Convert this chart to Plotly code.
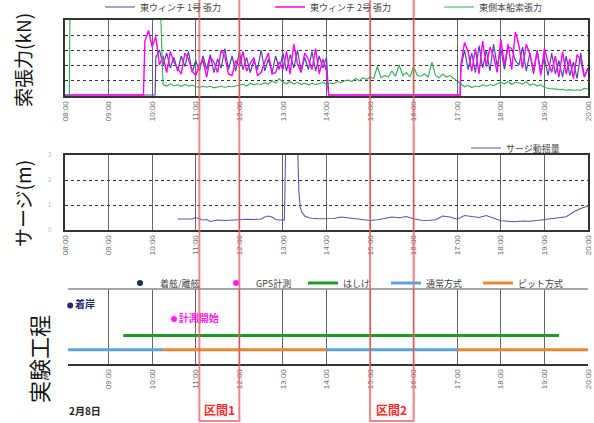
import plotly.graph_objects as go
import pandas as pd

DAY = "2024-02-08 "

# ---------------- data ----------------
HOUR_TICKS = ["08:00", "09:00", "10:00", "11:00", "12:00", "13:00", "14:00",
              "15:00", "16:00", "17:00", "18:00", "19:00", "20:00"]

# tension (kN), 5-minute samples
W1_A_START = "10:05"
W1_A = [50, 60, 40, 56, 36, 50, 32, 52, 38, 58, 30, 46, 32, 52, 34, 54, 30, 48,
        36, 62, 34, 52, 32, 58, 34, 50, 30, 46, 34, 60, 32, 48, 30, 52, 34, 56,
        32, 54, 36, 60, 32, 50, 34, 58, 32, 52, 36, 50]
W1_B_START = "17:05"
W1_B = [36, 60, 34, 56, 30, 66, 36, 60, 32, 68, 38, 62, 34, 64, 62, 46, 40, 64,
        32, 56, 28, 60, 30, 50, 26, 56, 28, 46, 24, 52, 26, 44, 22, 56, 24, 36]
W2_A_START = "09:50"
W2_A = [72, 86, 64, 78, 40, 52, 30, 58, 44, 36, 28, 56, 48, 32, 26, 40, 46, 24,
        50, 44, 30, 60, 52, 28, 26, 46, 38, 58, 32, 42, 50, 26, 30, 44, 56, 28,
        30, 44, 34, 58, 28, 68, 42, 30, 56, 48, 34, 62, 28, 48, 32]
W2_B_START = "17:05"
W2_B = [40, 70, 58, 32, 62, 28, 72, 38, 64, 52, 30, 74, 40, 68, 34, 84, 66, 36,
        68, 54, 32, 58, 26, 62, 44, 30, 52, 24, 58, 28, 48, 22, 54, 46, 24, 36]
GREEN_PRE_TIME = ["08:00", "08:06", "08:07", "10:11"]
GREEN_PRE = [0, 0, 130, 130]
GREEN_START = "10:15"
GREEN = [14, 12, 15, 12.4, 13.6, 11.6, 14, 12, 13.2,
         11, 10, 12, 10.4, 11.6, 9.6, 11.2, 12, 10, 11.6, 11, 12.4,
         13, 14.4, 12, 15.6, 13.6, 15, 14, 16.4, 14.4, 19, 16, 22,
         17, 15, 18, 14.4, 17, 14, 16, 13.6, 15.6, 14, 15, 17,
         14, 16, 15, 18, 16.4, 19, 20, 18, 22, 19, 23, 21,
         24, 22, 38, 23, 26, 24, 32, 25, 40, 26, 30, 24,
         38, 26, 25, 28, 24, 44, 26, 23, 28, 24, 26, 22,
         18, 14, 11, 13, 10, 12, 11, 13.6, 12, 14, 12.4, 15,
         17, 15, 18, 14, 17, 16, 14.4, 18, 13, 15, 12, 14,
         10, 9, 8, 8.4, 7, 7.6, 6.4, 7.2, 6, 7, 6, 9,
         8]

# surge (m)
SURGE_TIME = ["10:35", "10:45", "10:55", "11:00", "11:05", "11:10", "11:15", "11:20",
              "11:25", "11:30", "11:40", "11:50", "12:00", "12:10", "12:20", "12:30",
              "12:35", "12:40", "12:45", "12:50", "12:55", "13:00", "13:02", "13:04",
              "13:20", "13:22", "13:24", "13:26", "13:28", "13:30", "13:35", "13:40",
              "13:50", "14:00", "14:10", "14:20", "14:30", "14:40", "14:50", "15:00",
              "15:10", "15:20", "15:30", "15:40", "15:50", "16:00", "16:10", "16:20",
              "16:30", "16:40", "16:50", "17:00", "17:10", "17:20", "17:30", "17:40",
              "17:50", "18:00", "18:10", "18:20", "18:30", "18:40", "18:50", "19:00",
              "19:10", "19:20", "19:30", "19:40", "19:50", "20:00"]
SURGE_M = [0.44, 0.45, 0.44, 0.50, 0.46, 0.40, 0.42, 0.34, 0.37, 0.40, 0.38, 0.40,
           0.40, 0.43, 0.42, 0.44, 0.52, 0.56, 0.52, 0.42, 0.40, 0.38, 0.40, 3.6,
           3.6, 1.5, 0.9, 0.72, 0.62, 0.56, 0.50, 0.47, 0.45, 0.46, 0.46, 0.52,
           0.48, 0.44, 0.41, 0.38, 0.41, 0.47, 0.52, 0.49, 0.54, 0.45, 0.39, 0.38,
           0.41, 0.56, 0.52, 0.43, 0.58, 0.54, 0.50, 0.58, 0.46, 0.37, 0.35, 0.33,
           0.36, 0.35, 0.38, 0.42, 0.47, 0.50, 0.53, 0.72, 0.86, 0.96]

# schedule
ARRIVE = ("08:07", 3.9, "着岸")
GPS_START = ("10:30", 3.0, "計測開始")
BARGE = (["09:20", "19:20"], 1.9)
NORMAL_SEGS = [("08:00", "10:15"), ("14:00", "17:00")]
PIT_SEGS = [("10:15", "14:00"), ("17:00", "20:00")]
SCHED_LEVEL = 0.95
SECTIONS = [("11:05", "12:00", "区間1"), ("15:00", "16:00", "区間2")]


def ts(hm):
    return DAY + hm


def seq(start, vals):
    return list(pd.date_range(ts(start), periods=len(vals), freq="5min"))


W = 594
H = 423


def px(x):
    return x / W


def py(y):
    return 1 - y / H


NAVY = "#4a4aa8"
MAG = "#ff00ff"
GRN = "#2fb050"

fig = go.Figure()

# winch 1
w1_x = [pd.Timestamp(ts("08:00")), pd.Timestamp(ts("10:04"))] + seq(W1_A_START, W1_A) + \
       [pd.Timestamp(ts("14:03")), pd.Timestamp(ts("17:04"))] + seq(W1_B_START, W1_B)
w1_y = [0, 0] + W1_A + [0, 0] + W1_B
fig.add_trace(go.Scatter(x=w1_x, y=w1_y, mode="lines", name="東ウィンチ 1号 張力",
                         line=dict(color=NAVY, width=1.2), xaxis="x", yaxis="y",
                         legend="legend"))
# winch 2
w2_x = [pd.Timestamp(ts("08:00")), pd.Timestamp(ts("09:48"))] + seq(W2_A_START, W2_A) + \
       [pd.Timestamp(ts("14:03")), pd.Timestamp(ts("17:04"))] + seq(W2_B_START, W2_B)
w2_y = [0, 0] + W2_A + [0, 0] + W2_B
fig.add_trace(go.Scatter(x=w2_x, y=w2_y, mode="lines", name="東ウィンチ 2号 張力",
                         line=dict(color=MAG, width=1.4), xaxis="x", yaxis="y",
                         legend="legend2"))
# ship line tension
g_x = [pd.Timestamp(ts(t)) for t in GREEN_PRE_TIME] + seq(GREEN_START, GREEN)
g_y = GREEN_PRE + GREEN
fig.add_trace(go.Scatter(x=g_x, y=g_y, mode="lines", name="東側本船索張力",
                         line=dict(color=GRN, width=1.1), xaxis="x", yaxis="y",
                         legend="legend3"))

# surge
fig.add_trace(go.Scatter(x=[ts(t) for t in SURGE_TIME], y=SURGE_M, mode="lines",
                         name="サージ動揺量", line=dict(color="#5858b8", width=1.1),
                         xaxis="x2", yaxis="y2", legend="legend4"))

# schedule
fig.add_trace(go.Scatter(x=[ts(ARRIVE[0])], y=[ARRIVE[1]], mode="markers+text",
                         text=["<b>" + ARRIVE[2] + "</b>"], textposition="middle right",
                         textfont=dict(color="#1c2a70", size=10, family="Noto Sans CJK JP"),
                         marker=dict(color="#1c2a70", size=6), name="着舷/離舷",
                         xaxis="x3", yaxis="y3", legend="legend5", cliponaxis=False))
fig.add_trace(go.Scatter(x=[ts(GPS_START[0])], y=[GPS_START[1]], mode="markers+text",
                         text=["<b>" + GPS_START[2] + "</b>"], textposition="middle right",
                         textfont=dict(color="#ff22ee", size=10, family="Noto Sans CJK JP"),
                         marker=dict(color="#ff22ee", size=6), name="GPS計測",
                         xaxis="x3", yaxis="y3", legend="legend6", cliponaxis=False))
fig.add_trace(go.Scatter(x=[ts(t) for t in BARGE[0]], y=[BARGE[1]] * 2, mode="lines",
                         name="はしけ", line=dict(color="#1f9a2a", width=3),
                         xaxis="x3", yaxis="y3", legend="legend7"))
for i, (a, b) in enumerate(NORMAL_SEGS):
    fig.add_trace(go.Scatter(x=[ts(a), ts(b)], y=[SCHED_LEVEL] * 2, mode="lines",
                             name="通常方式", line=dict(color="#5ea2dc", width=3),
                             xaxis="x3", yaxis="y3", legend="legend8",
                             showlegend=(i == 0), legendgroup="normal"))
for i, (a, b) in enumerate(PIT_SEGS):
    fig.add_trace(go.Scatter(x=[ts(a), ts(b)], y=[SCHED_LEVEL] * 2, mode="lines",
                             name="ピット方式", line=dict(color="#f28530", width=3),
                             xaxis="x3", yaxis="y3", legend="legend9",
                             showlegend=(i == 0), legendgroup="pit"))

XD = [px(65), px(588)]
tickfont = dict(size=8, color="#6a6a6a", family="Liberation Sans")
xcommon = dict(type="date", dtick=3600000, tick0=ts("08:00"), tickformat="%H:%M",
               tickangle=-90, showgrid=True, gridcolor="#666", gridwidth=1.2,
               ticks="", tickfont=tickfont, zeroline=False, automargin=False)

fig.update_layout(
    width=W, height=H, margin=dict(l=0, r=0, t=0, b=0, autoexpand=False),
    paper_bgcolor="white", plot_bgcolor="white",
    font=dict(family="Noto Sans CJK JP", color="#333"),
    xaxis=dict(domain=XD, range=[ts("08:00"), ts("20:00")], anchor="y",
               showline=True, linecolor="#333", linewidth=2, mirror=True,
               layer="below traces", **xcommon),
    yaxis=dict(domain=[py(96), py(20)], range=[-1.3, 100], dtick=20, anchor="x",
               showgrid=True, gridcolor="#333", griddash="dot", gridwidth=1,
               showticklabels=False, zeroline=False, showline=True, linecolor="#333",
               linewidth=2, mirror=True, ticks="", automargin=False),
    xaxis2=dict(domain=XD, range=[ts("08:00"), ts("20:00")], anchor="y2",
                showline=True, linecolor="#333", linewidth=2, mirror=True, **xcommon),
    yaxis2=dict(domain=[py(230), py(155)], range=[0, 3], dtick=1, anchor="x2",
                showgrid=True, gridcolor="#333", griddash="dot", gridwidth=1,
                tickfont=dict(size=7, color="#bbb"), ticklabelstandoff=10,
                zeroline=False, showline=True,
                linecolor="#333", linewidth=2, mirror=True, ticks="", automargin=False),
    xaxis3=dict(domain=[px(68), px(588)], range=[ts("08:04"), ts("20:00")], anchor="y3",
                showline=True, linecolor="#333", linewidth=2, mirror=False, **xcommon),
    yaxis3=dict(domain=[py(364), py(289)], range=[0, 5], anchor="x3",
                showgrid=False, showticklabels=False, zeroline=False, showline=False,
                ticks="", automargin=False),
    showlegend=True,
)

legfont = dict(size=9, color="#444", family="Noto Sans CJK JP")
LEGENDS = {
    "legend": (140, 7), "legend2": (310, 7), "legend3": (479, 7),
    "legend4": (506, 148),
    "legend5": (160, 283), "legend6": (256, 283), "legend7": (343, 283),
    "legend8": (426, 283), "legend9": (518, 283),
}
for key, (tx, ty) in LEGENDS.items():
    fig.update_layout({key: dict(x=px(tx - 40), y=py(ty), xanchor="left", yanchor="middle",
                                 bgcolor="rgba(0,0,0,0)", font=legfont, itemwidth=30,
                                 tracegroupgap=0)})

shapes = [dict(type="line", xref="paper", yref="paper", x0=px(68), x1=px(588),
               y0=py(289), y1=py(289), line=dict(color="#888", width=1.5))]
annotations = []
for a, b, lab in SECTIONS:
    shapes.append(dict(type="rect", xref="x", yref="paper", x0=ts(a), x1=ts(b),
                       y0=py(421), y1=1.02, line=dict(color="rgba(240,90,90,0.75)", width=2),
                       layer="above"))
    mid = pd.Timestamp(ts(a)) + (pd.Timestamp(ts(b)) - pd.Timestamp(ts(a))) / 2
    annotations.append(dict(xref="x", yref="paper", x=mid, y=py(409), text="<b>" + lab + "</b>",
                            xanchor="center", yanchor="middle",
                            showarrow=False, font=dict(color="#ff2a2a", size=12)))

annotations += [
    dict(xref="paper", yref="paper", x=px(23), y=py(60), text="索張力(kN)", textangle=-90,
         xanchor="center", yanchor="middle",
         showarrow=False, font=dict(size=19, color="#111")),
    dict(xref="paper", yref="paper", x=px(22), y=py(204), text="サージ(m)", textangle=-90,
         xanchor="center", yanchor="middle",
         showarrow=False, font=dict(size=19, color="#111")),
    dict(xref="paper", yref="paper", x=px(38), y=py(359), text="実験工程", textangle=-90,
         xanchor="center", yanchor="middle",
         showarrow=False, font=dict(size=22, color="#111")),
    dict(xref="paper", yref="paper", x=px(67), y=py(410), text="<b>2月8日</b>",
         xanchor="left", yanchor="middle", showarrow=False, font=dict(size=10, color="#222")),
]
fig.update_layout(shapes=shapes, annotations=annotations)

fig.write_html("out.html", config={"displayModeBar": False},
               post_script="document.body.style.margin='0';document.body.style.padding='0';")
